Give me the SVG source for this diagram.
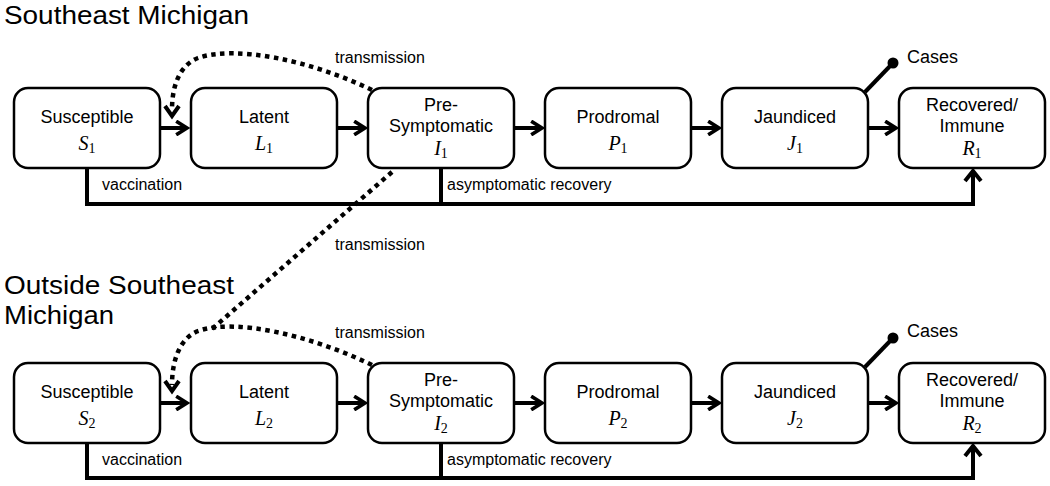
<svg xmlns="http://www.w3.org/2000/svg" width="1050" height="486" viewBox="0 0 1050 486">
<style>
.box{fill:#fff;stroke:#000;stroke-width:2.5}
.t{font-family:"Liberation Sans",Arial,sans-serif;font-size:18px;fill:#000;text-anchor:middle}
.m{font-family:"Liberation Serif","Times New Roman",serif;font-style:italic;font-size:20px;fill:#000;text-anchor:middle}
.sub{font-style:normal;font-size:14px}
.lbl{font-family:"Liberation Sans",Arial,sans-serif;font-size:16px;fill:#000}
.title{font-family:"Liberation Sans",Arial,sans-serif;font-size:26px;fill:#000}
.flow{fill:none;stroke:#000;stroke-width:4;marker-end:url(#ah)}
.line{fill:none;stroke:#000;stroke-width:4}
.dot{fill:none;stroke:#000;stroke-width:4.5;stroke-dasharray:4.5 4.5}
.chev{fill:none;stroke:#000;stroke-width:4}
</style>
<defs>
<marker id="ah" markerWidth="4" markerHeight="4" refX="3" refY="2" orient="auto" markerUnits="strokeWidth">
<path d="M0.3,0.3 L3,2 L0.3,3.7" fill="none" stroke="#000" stroke-width="0.9"/>
</marker>
</defs>
<text class="title" x="4" y="24" textLength="245" lengthAdjust="spacingAndGlyphs">Southeast Michigan</text>
<text class="title" x="4" y="294" textLength="230" lengthAdjust="spacingAndGlyphs">Outside Southeast</text>
<text class="title" x="4" y="324" textLength="110" lengthAdjust="spacingAndGlyphs">Michigan</text>

<g id="connectors">
<line class="flow" x1="160" y1="128" x2="187" y2="128"/>
<line class="flow" x1="337" y1="128" x2="365" y2="128"/>
<line class="flow" x1="514" y1="128" x2="542" y2="128"/>
<line class="flow" x1="691" y1="128" x2="719" y2="128"/>
<line class="flow" x1="868" y1="128" x2="896" y2="128"/>
<polyline class="line" points="87,168 87,204 973,204 973,172"/>
<line class="line" x1="441" y1="168" x2="441" y2="204"/>
<polyline class="chev" points="965,181 973,171 981,181"/>
<path class="dot" d="M372,90 C310,60 235,45 198,58 C180,65 172,85 172,110"/>
<polyline class="chev" points="165,106 172,116 179,106"/>
<line class="line" x1="865" y1="92" x2="892" y2="64"/>
<circle cx="893" cy="63" r="5.5" fill="#000"/>
<line class="flow" x1="160" y1="403" x2="187" y2="403"/>
<line class="flow" x1="337" y1="403" x2="365" y2="403"/>
<line class="flow" x1="514" y1="403" x2="542" y2="403"/>
<line class="flow" x1="691" y1="403" x2="719" y2="403"/>
<line class="flow" x1="868" y1="403" x2="896" y2="403"/>
<polyline class="line" points="87,443 87,478 973,478 973,447"/>
<line class="line" x1="441" y1="443" x2="441" y2="478"/>
<polyline class="chev" points="965,456 973,446 981,456"/>
<path class="dot" d="M372,365 C310,335 235,318 198,331 C180,338 172,360 172,385"/>
<polyline class="chev" points="165,381 172,391 179,381"/>
<line class="dot" x1="392" y1="172" x2="212" y2="329"/>
<line class="line" x1="865" y1="367" x2="892" y2="339"/>
<circle cx="893" cy="338" r="5.5" fill="#000"/>
</g>

<g id="labels">
<text class="lbl" x="335" y="63">transmission</text>
<text class="lbl" x="102" y="190">vaccination</text>
<text class="lbl" x="447" y="190">asymptomatic recovery</text>
<text class="lbl" x="907" y="63" style="font-size:18px">Cases</text>
<text class="lbl" x="335" y="250">transmission</text>
<text class="lbl" x="335" y="338">transmission</text>
<text class="lbl" x="102" y="465">vaccination</text>
<text class="lbl" x="447" y="465">asymptomatic recovery</text>
<text class="lbl" x="907" y="337" style="font-size:18px">Cases</text>
</g>

<g id="S1"><rect class="box" x="14" y="88" width="146" height="80" rx="14"/><text class="t" x="87" y="123">Susceptible</text><text class="m" x="87" y="150">S<tspan class="sub" dy="3">1</tspan></text></g>
<g id="L1"><rect class="box" x="191" y="88" width="146" height="80" rx="14"/><text class="t" x="264" y="123">Latent</text><text class="m" x="264" y="150">L<tspan class="sub" dy="3">1</tspan></text></g>
<g id="I1"><rect class="box" x="368" y="88" width="146" height="80" rx="14"/><text class="t" x="441" y="111">Pre-</text><text class="t" x="441" y="132">Symptomatic</text><text class="m" x="441" y="155">I<tspan class="sub" dy="3">1</tspan></text></g>
<g id="P1"><rect class="box" x="545" y="88" width="146" height="80" rx="14"/><text class="t" x="618" y="123">Prodromal</text><text class="m" x="618" y="150">P<tspan class="sub" dy="3">1</tspan></text></g>
<g id="J1"><rect class="box" x="722" y="88" width="146" height="80" rx="14"/><text class="t" x="795" y="123">Jaundiced</text><text class="m" x="795" y="150">J<tspan class="sub" dy="3">1</tspan></text></g>
<g id="R1"><rect class="box" x="899" y="88" width="146" height="80" rx="14"/><text class="t" x="972" y="111">Recovered/</text><text class="t" x="972" y="132">Immune</text><text class="m" x="972" y="155">R<tspan class="sub" dy="3">1</tspan></text></g>

<g id="S2"><rect class="box" x="14" y="363" width="146" height="80" rx="14"/><text class="t" x="87" y="398">Susceptible</text><text class="m" x="87" y="425">S<tspan class="sub" dy="3">2</tspan></text></g>
<g id="L2"><rect class="box" x="191" y="363" width="146" height="80" rx="14"/><text class="t" x="264" y="398">Latent</text><text class="m" x="264" y="425">L<tspan class="sub" dy="3">2</tspan></text></g>
<g id="I2"><rect class="box" x="368" y="363" width="146" height="80" rx="14"/><text class="t" x="441" y="386">Pre-</text><text class="t" x="441" y="407">Symptomatic</text><text class="m" x="441" y="430">I<tspan class="sub" dy="3">2</tspan></text></g>
<g id="P2"><rect class="box" x="545" y="363" width="146" height="80" rx="14"/><text class="t" x="618" y="398">Prodromal</text><text class="m" x="618" y="425">P<tspan class="sub" dy="3">2</tspan></text></g>
<g id="J2"><rect class="box" x="722" y="363" width="146" height="80" rx="14"/><text class="t" x="795" y="398">Jaundiced</text><text class="m" x="795" y="425">J<tspan class="sub" dy="3">2</tspan></text></g>
<g id="R2"><rect class="box" x="899" y="363" width="146" height="80" rx="14"/><text class="t" x="972" y="386">Recovered/</text><text class="t" x="972" y="407">Immune</text><text class="m" x="972" y="430">R<tspan class="sub" dy="3">2</tspan></text></g>
</svg>
